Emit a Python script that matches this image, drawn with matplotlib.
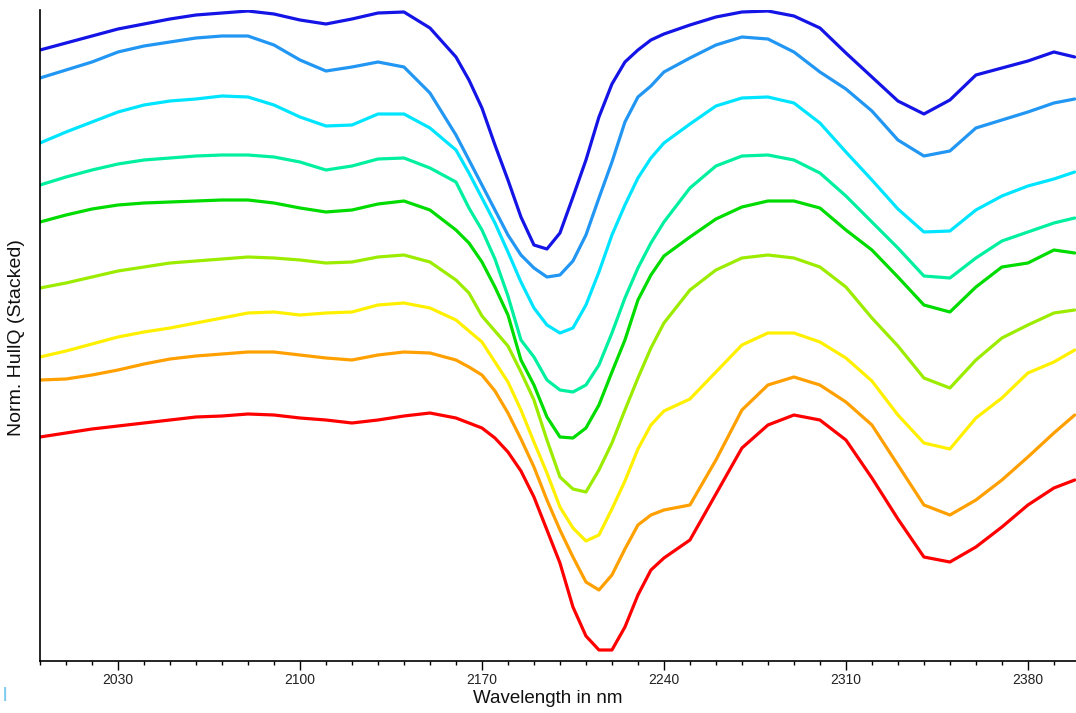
import numpy as np
import matplotlib
matplotlib.use("Agg")
import matplotlib.pyplot as plt
from matplotlib.ticker import MultipleLocator

plt.rcParams['font.family'] = ['Liberation Sans', 'DejaVu Sans']

# wavelength grid (nm)
wl = [2000, 2010, 2020, 2030, 2040, 2050, 2060, 2070, 2080, 2090,
      2100, 2110, 2120, 2130, 2140, 2150, 2160,
      2165, 2170, 2175, 2180, 2185, 2190, 2195, 2200, 2205, 2210, 2215,
      2220, 2225, 2230, 2235,
      2240, 2250, 2260, 2270, 2280, 2290, 2300, 2310,
      2320, 2330, 2340, 2350, 2360, 2370, 2380, 2390, 2398]

# stacked hull quotient spectra (arbitrary units), top to bottom
s1 = [611, 618, 625, 632, 637, 642, 646, 648, 650, 647, 641, 637, 642, 648, 649, 633, 604,
      581, 553, 516, 481, 444, 416, 412, 428, 464, 501, 544, 577, 599, 611, 621,
      627, 636, 644, 649, 650, 645, 633, 608, 584, 560, 547, 561, 586, 593, 600, 609, 604]
s2 = [583, 591, 599, 609, 615, 619, 623, 625, 625, 616, 601, 590, 594, 599, 594, 568, 526,
      501, 476, 451, 426, 406, 393, 384, 386, 400, 426, 463, 499, 539, 564, 575,
      589, 603, 616, 624, 622, 609, 589, 572, 550, 521, 505, 510, 533, 541, 549, 558, 562]
s3 = [518, 529, 539, 549, 556, 560, 562, 565, 564, 556, 544, 535, 536, 547, 547, 533, 511,
      488, 463, 438, 409, 379, 353, 336, 328, 333, 356, 389, 426, 456, 483, 503,
      518, 537, 555, 563, 564, 558, 538, 509, 481, 452, 429, 430, 451, 465, 475, 482, 489]
s4 = [476, 484, 491, 497, 501, 503, 505, 506, 506, 504, 499, 491, 495, 502, 503, 493, 479,
      453, 431, 402, 365, 321, 304, 281, 271, 269, 276, 296, 328, 363, 393, 418,
      439, 473, 495, 505, 506, 501, 488, 465, 439, 413, 385, 383, 403, 420, 429, 438, 443]
s5 = [439, 446, 452, 456, 458, 459, 460, 461, 461, 458, 453, 449, 451, 457, 460, 451, 431,
      418, 399, 374, 346, 301, 276, 244, 224, 223, 233, 256, 289, 321, 361, 386,
      405, 424, 442, 454, 460, 460, 453, 431, 411, 384, 356, 349, 374, 394, 398, 411, 408]
s6 = [373, 378, 384, 390, 394, 398, 400, 402, 404, 403, 401, 398, 399, 404, 406, 399, 381,
      368, 345, 330, 315, 289, 261, 221, 184, 172, 169, 191, 218, 251, 283, 313,
      338, 371, 391, 403, 406, 403, 394, 374, 343, 315, 283, 273, 301, 323, 336, 348, 351]
s7 = [304, 310, 317, 324, 329, 333, 338, 343, 348, 349, 346, 348, 349, 356, 358, 353, 341,
      330, 319, 299, 279, 251, 219, 188, 154, 133, 120, 126, 152, 180, 212, 236,
      250, 262, 289, 316, 328, 328, 319, 303, 280, 246, 218, 212, 243, 263, 288, 299, 311]
s8 = [281, 282, 286, 291, 297, 302, 305, 307, 309, 309, 306, 303, 301, 306, 309, 308, 301,
      294, 286, 270, 248, 222, 194, 161, 131, 104, 79, 71, 86, 112, 136, 146,
      151, 156, 201, 251, 276, 284, 276, 259, 236, 196, 156, 146, 161, 181, 204, 228, 246]
s9 = [224, 228, 232, 235, 238, 241, 244, 245, 247, 246, 243, 241, 238, 241, 245, 248, 243,
      238, 233, 223, 209, 190, 164, 131, 98, 54, 25, 11, 11, 34, 66, 91,
      103, 121, 167, 213, 236, 246, 241, 221, 183, 142, 104, 99, 114, 134, 156, 173, 181]

series = [s1, s2, s3, s4, s5, s6, s7, s8, s9]
colors = ['#1414e6', '#2196f3', '#00e5ff', '#00f0a0', '#00dc00',
          '#9cec00', '#fff000', '#ffa000', '#ff0000']

fig = plt.figure(figsize=(10.76, 7.13), dpi=100)
ax = fig.add_axes([40/1076, 52/713, 1036/1076, 651/713])

for s, c in zip(series, colors):
    ax.plot(wl, s, color=c, lw=2.3, solid_joinstyle='round', solid_capstyle='round')

ax.set_xlim(2000, 2398.5)
ax.set_ylim(0, 651)

ax.spines['top'].set_visible(False)
ax.spines['right'].set_visible(False)
ax.spines['left'].set_linewidth(1.2)
ax.spines['bottom'].set_linewidth(1.2)

ax.set_xticks([2030, 2100, 2170, 2240, 2310, 2380])
ax.xaxis.set_minor_locator(MultipleLocator(10))
ax.tick_params(axis='x', which='major', length=6.5, width=1, labelsize=10, pad=2,
               labelcolor='#222222')
ax.tick_params(axis='x', which='minor', length=3, width=1)
ax.set_yticks([])

ax.set_xlabel('Wavelength in nm', fontsize=13.5, color='#111111')
ax.xaxis.set_label_coords(0.49, -0.045)
ax.set_ylabel('Norm. HullQ (Stacked)', fontsize=14, color='#111111')
ax.yaxis.set_label_coords(-0.0145, 0.497)

fig.text(0.003, 0.021, '|', color='#7ecbf0', fontsize=11, fontweight='bold')

plt.savefig('out.png', dpi=100)
